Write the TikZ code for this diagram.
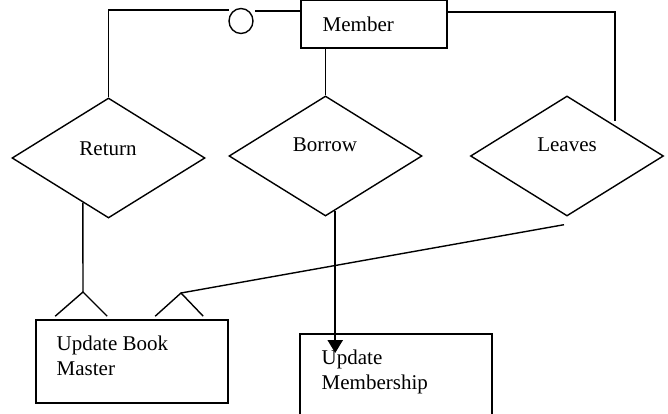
\documentclass[tikz,border=0pt]{standalone}
\usepackage{fontspec}
\setmainfont{Liberation Serif}
\usetikzlibrary{shapes.geometric,arrows.meta,calc}
\begin{document}
\begin{tikzpicture}[x=1pt,y=-1pt,
  line width=1.4pt,
  entity/.style={draw, rectangle, line width=1.6pt, inner sep=0pt},
  relation/.style={draw, diamond, line width=1.4pt, inner sep=0pt,
    minimum width=193pt, minimum height=120pt},
  txt/.style={inner sep=0pt, font=\fontsize{21}{24.5}\selectfont, align=left},
  link/.style={line width=1.4pt},
  flow/.style={line width=2.4pt, -{Triangle[length=13pt,width=15pt]}}]
\useasboundingbox (0,0) rectangle (668,414);
\clip (0,0) rectangle (668,414);

% entities
\node[entity, minimum width=146pt, minimum height=48pt] (member) at (374,24) {};
\node[txt, anchor=base west] (membertxt) at (322,32) {Member};

\node[entity, minimum width=192pt, minimum height=83pt] (ubm) at (132,361.5) {};
\node[txt, anchor=base west] (ubmtxt) at (56,375) {Update Book\\Master};

\node[entity, minimum width=192pt, minimum height=110pt] (um) at (396,389) {};
\node[txt, anchor=base west] (umtxt) at (321,389) {Update\\Membership};

% relationships
\node[relation] (ret) at (108.5,158) {};
\node[txt, anchor=base] (rettxt) at (108,155) {Return};
\node[relation] (bor) at (325.5,156) {};
\node[txt, anchor=base] (bortxt) at (325,152) {Borrow};
\node[relation] (lv) at (567,156) {};
\node[txt, anchor=base] (lvtxt) at (567,152) {Leaves};

% optionality circle on the Member--Return link
\node[draw, ellipse, line width=1.4pt, minimum width=24pt, minimum height=25pt, inner sep=0pt] (opt) at (241,21) {};

% named points for the connectors
\coordinate (m-left) at (301,11);
\coordinate (opt-r) at (255,11);
\coordinate (opt-l) at (229,10);
\coordinate (m-right) at (447,12);
\coordinate (lv-in) at (615,121);
\coordinate (ret-out) at ($(ret.south)!0.264!(ret.west)$);
\coordinate (cf1) at (83,292);
\coordinate (lv-out) at ($(lv.south)+(-3,8)$);
\coordinate (cf2) at (181,293);
\coordinate (bor-out) at ($(bor.south)!0.1!(bor.east)$);
\coordinate (um-in) at (bor-out |- 0,353);

% Member -- Return (optional)
\draw[link] (m-left) -- (opt-r);
\draw[link] (opt-l) -| (ret.north);
% Member -- Borrow
\draw[link] (member.south -| bor.north) -- (bor.north);
% Member -- Leaves
\draw[link] (m-right) -| (lv-in);

% Return -- Update Book Master (many)
\draw[link] (ret-out) -- (cf1);
\draw[link] ($(ubm.north west)+(20,-3)$) -- (cf1) -- ($(ubm.north west)+(72,-3)$);
% Leaves -- Update Book Master (many)
\draw[link] (lv-out) -- (cf2);
\draw[link] ($(ubm.north west)+(120,-3)$) -- (cf2) -- ($(ubm.north west)+(168,-3)$);

% Borrow -> Update Membership
\draw[flow] (bor-out) -- (um-in);
\end{tikzpicture}
\end{document}
